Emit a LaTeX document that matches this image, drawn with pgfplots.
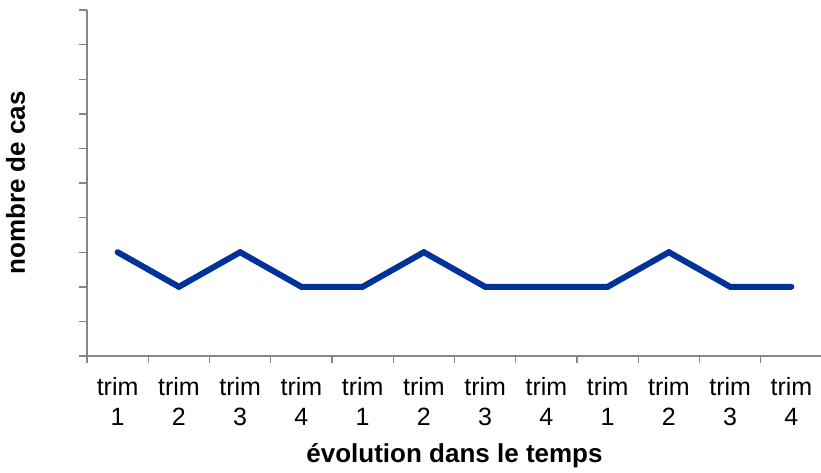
\documentclass[border=0pt]{standalone}
\usepackage{pgfplots}
\pgfplotsset{compat=1.18}
\usepackage{fontspec}
\setmainfont{Liberation Sans}
\definecolor{axgray}{RGB}{134,134,134}
\definecolor{serie}{RGB}{0,51,153}
\begin{document}
\begin{tikzpicture}
\begin{axis}[
  scale only axis, width=735pt, height=346pt,
  xmin=0.5, xmax=12.5, ymin=0, ymax=10,
  clip=false,
  axis x line*=bottom, axis y line*=left,
  axis line style={draw=axgray, line width=1.4pt, -},
  tick align=outside,
  xtick={1,...,12},
  xticklabels={trim\\1,trim\\2,trim\\3,trim\\4,trim\\1,trim\\2,trim\\3,trim\\4,trim\\1,trim\\2,trim\\3,trim\\4},
  major x tick style={draw=none},
  minor xtick={0.5,1.5,...,12.5},
  minor tick length=7pt,
  major tick length=8pt,
  tick style={draw=axgray, line width=1.4pt},
  ytick={0,...,10},
  yticklabels={},
  xticklabel style={align=center, font=\fontsize{25}{30}\selectfont, anchor=north, yshift=-10pt},
  xlabel={\textbf{évolution dans le temps}},
  ylabel={\textbf{nombre de cas}},
  every axis x label/.style={at={(axis description cs:0.5,0)}, anchor=base, yshift=-106pt, font=\fontsize{26}{30}\selectfont},
  every axis y label/.style={at={(axis description cs:0,0.5)}, rotate=90, anchor=base, yshift=62pt, font=\fontsize{26}{30}\selectfont},
]
\addplot[serie, line width=6pt, line cap=round, line join=miter] coordinates {
  (1,3) (2,2) (3,3) (4,2) (5,2) (6,3) (7,2) (8,2) (9,2) (10,3) (11,2) (12,2)
};
\coordinate (sw) at (rel axis cs:0,0);
\end{axis}
\pgfresetboundingbox
\path[use as bounding box] ([xshift=-87pt,yshift=-116pt]sw) rectangle ([xshift=734pt,yshift=356pt]sw);
\end{tikzpicture}
\end{document}
